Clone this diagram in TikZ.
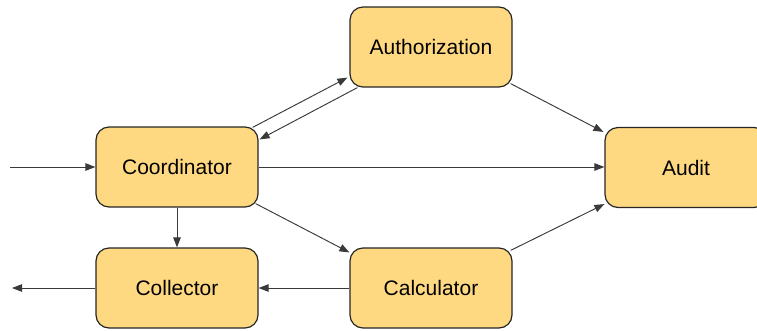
\documentclass[tikz,border=0pt]{standalone}
\usepackage{fontspec}
\setmainfont{Liberation Sans}
\usetikzlibrary{calc,arrows.meta}
\definecolor{boxfill}{HTML}{FFD982}
\definecolor{boxline}{HTML}{262626}
\definecolor{arrowcol}{HTML}{3A3A3A}
\begin{document}
\begin{tikzpicture}[x=1pt,y=-1pt,
  box/.style={draw=boxline,fill=boxfill,line width=1.2pt,rounded corners=13pt,
    minimum width=162pt,minimum height=80pt,inner sep=0pt,
    font=\fontsize{21}{25}\selectfont,text=black},
  conn/.style={draw=arrowcol,line width=0.95pt,
    -{Triangle[length=10pt,width=7.5pt]}}]
\useasboundingbox (0,0) rectangle (757,330);
\clip (0,0) rectangle (757,330);
\node[box] (coord) at (177,167) {Coordinator};
\node[box] (auth) at (431,47) {Authorization};
\node[box] (audit) at (686,167.5) {Audit};
\node[box] (coll) at (177,288) {Collector};
\node[box] (calc) at (431,288) {Calculator};
\coordinate (in) at (10,167);
\coordinate (out) at (12,288);
\draw[conn] (in) -- (coord.west);
\draw[conn] (coord.east) -- (coord.east -| audit.west);
\draw[conn] (coord.south) -- (coll.north);
\draw[conn] (calc.west) -- (coll.east);
\draw[conn] (coll.west) -- (out);
\draw[conn] ($(coord.south east)+(-3,-4)$) -- ($(calc.north west)+(0,5)$);
\draw[conn] ($(calc.north east)+(-2,3)$) -- ($(audit.south west)+(0,-4)$);
\draw[conn] ($(auth.south east)+(-2,-4)$) -- ($(audit.north west)+(-1,5)$);
\draw[conn] ($(coord.north east)+(-6,1)$) -- ($(auth.south west)+(-2,-10)$);
\draw[conn] ($(auth.south west)+(8,0)$) -- ($(coord.north east)+(1,13)$);
\end{tikzpicture}
\end{document}
